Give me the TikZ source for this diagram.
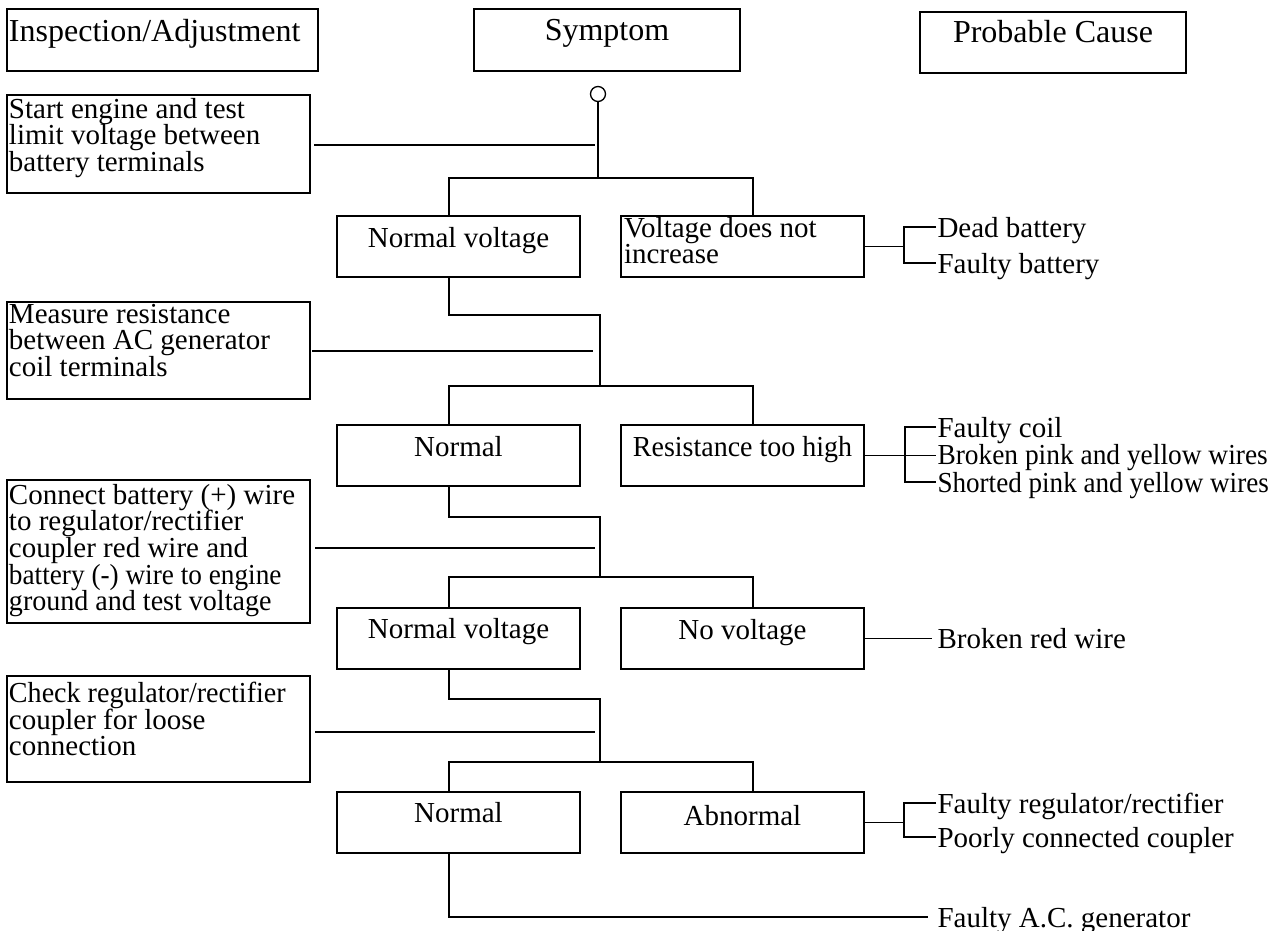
\documentclass[tikz,border=0pt]{standalone}
\usepackage{fontspec}
\setmainfont{Liberation Serif}
\lineskiplimit=-10pt
\begin{document}
\begin{tikzpicture}[x=1pt,y=-1pt,
  every node/.style={inner sep=0pt, outer sep=0pt},
  headbox/.style={draw, line width=1.5pt, anchor=north west, minimum height=62pt},
  leftbox/.style={draw, line width=1.1pt, anchor=north west, minimum width=303pt},
  symbox/.style={draw, line width=1.8pt, anchor=north west, minimum width=243pt, minimum height=61pt},
  headtext/.style={font=\fontsize{32}{34}\selectfont, anchor=base},
  bodytext/.style={font=\fontsize{29}{26.7}\selectfont},
  lefttext/.style={bodytext, anchor=north west, align=left},
  symtext/.style={bodytext, anchor=base},
  cause/.style={bodytext, anchor=base west, text height=20pt, text depth=0pt, inner xsep=1.5pt},
  treeline/.style={line width=1.8pt},
  leftline/.style={line width=1.1pt}
]
\useasboundingbox (0,0) rectangle (1275,931);

% header boxes
\node[headbox, minimum width=311pt] (hi) at (7,9) {};
\node[headtext, anchor=base west] (hit) at (9,42) {Inspection/Adjustment};
\node[headbox, minimum width=266pt] (hs) at (474,9) {};
\node[headtext] (hst) at (607,41) {Symptom};
\node[headbox, minimum width=266pt, minimum height=61pt] (hp) at (920,12) {};
\node[headtext] (hpt) at (1053,43) {Probable Cause};

% left boxes
\node[leftbox, minimum height=98pt] (l1) at (7,95) {};
\node[lefttext] (l1t) at (9,98) {\rule{0pt}{20pt}Start engine and test\\limit voltage between\\battery terminals};
\node[leftbox, minimum height=97pt] (l2) at (7,302) {};
\node[lefttext] (l2t) at (9,303) {\rule{0pt}{20pt}Measure resistance\\between AC generator\\coil terminals};
\node[leftbox, minimum height=143pt] (l3) at (7,480) {};
\node[lefttext] (l3t) at (9,484) {\rule{0pt}{20pt}Connect battery (+) wire\\to regulator/rectifier\\coupler red wire and\\\scalebox{0.94}[1]{battery (-) wire to engine}\\\scalebox{0.967}[1]{ground and test voltage}};
\node[leftbox, minimum height=106pt] (l4) at (7,676) {};
\node[lefttext] (l4t) at (9,682) {\rule{0pt}{20pt}\scalebox{0.968}[1]{Check regulator/rectifier}\\coupler for loose\\connection};

% start circle
\node[draw, circle, line width=1.3pt, minimum size=15pt] (c0) at (598,94) {};

% symptom boxes
\node[symbox] (nv1) at (337,216) {};
\node[symtext] (nv1t) at ([yshift=-31pt]nv1.north) {Normal voltage};
\node[symbox] (vd) at (621,216) {};
\node[lefttext] (vdt) at (624,217) {\rule{0pt}{20pt}Voltage does not\\increase};

\node[symbox] (n2) at (337,425) {};
\node[symtext] (n2t) at ([yshift=-31pt]n2.north) {Normal};
\node[symbox] (rt) at (621,425) {};
\node[symtext] (rtt) at ([yshift=-31pt]rt.north) {\scalebox{0.965}[1]{Resistance too high}};

\node[symbox] (nv2) at (337,608) {};
\node[symtext] (nv2t) at ([yshift=-30pt]nv2.north) {Normal voltage};
\node[symbox] (nov) at (621,608) {};
\node[symtext] (novt) at ([yshift=-31pt]nov.north) {No voltage};

\node[symbox] (n3) at (337,792) {};
\node[symtext] (n3t) at ([yshift=-30pt]n3.north) {Normal};
\node[symbox] (ab) at (621,792) {};
\node[symtext] (abt) at ([yshift=-33pt]ab.north) {Abnormal};

% causes
\node[cause] (db) at (936,237) {Dead battery};
\node[cause] (fb) at (936,273) {Faulty battery};
\node[cause] (fc) at (936,437) {Faulty coil};
\node[cause] (bp) at (936,464) {\scalebox{0.945}[1]{Broken pink and yellow wires}};
\node[cause] (sp) at (936,492) {\scalebox{0.935}[1]{Shorted pink and yellow wires}};
\node[cause] (brw) at (936,648) {Broken red wire};
\node[cause] (fr) at (936,813) {Faulty regulator/rectifier};
\node[cause] (pc) at (936,847) {Poorly connected coupler};
\node[cause] (fac) at (936,927) {Faulty A.C. generator};

% trunk coordinates
\coordinate (s1) at (598,178);
\coordinate (k1) at (600,315);
\coordinate (s2) at (600,386);
\coordinate (k2) at (600,517);
\coordinate (s3) at (600,577);
\coordinate (k3) at (600,699);
\coordinate (s4) at (600,762);

% tree lines
\draw[treeline] (c0) -- (s1);
\draw[treeline] ([xshift=-9.5pt]nv1.north) |- (s1) -| ([xshift=10.5pt]vd.north);
\draw[treeline] ([xshift=-9.5pt]nv1.south) |- (k1) -- (s2);
\draw[treeline] ([xshift=-9.5pt]n2.north) |- (s2) -| ([xshift=10.5pt]rt.north);
\draw[treeline] ([xshift=-9.5pt]n2.south) |- (k2) -- (s3);
\draw[treeline] ([xshift=-9.5pt]nv2.north) |- (s3) -| ([xshift=10.5pt]nov.north);
\draw[treeline] ([xshift=-9.5pt]nv2.south) |- (k3) -- (s4);
\draw[treeline] ([xshift=-9.5pt]n3.north) |- (s4) -| ([xshift=10.5pt]ab.north);
\draw[treeline] ([xshift=-9.5pt]n3.south) |- ([xshift=-8pt]fac.west);

% left connectors
\coordinate (e1) at (595,145);
\coordinate (e2) at (593,351);
\coordinate (e3) at (595,548);
\coordinate (e4) at (595,732);
\draw[leftline] ([xshift=4pt]l1.east |- e1) -- (e1);
\draw[leftline] ([xshift=2pt]l2.east |- e2) -- (e2);
\draw[leftline] ([xshift=5pt]l3.east |- e3) -- (e3);
\draw[leftline] ([xshift=5pt]l4.east |- e4) -- (e4);

% cause connectors
\coordinate (j1) at (904,0);
\draw[treeline] (vd.east) -- (vd.east -| j1);
\draw[treeline] (db.west) -| (j1 |- vd.east) |- (fb.west);
\coordinate (j2) at (905,0);
\draw[treeline] (rt.east) -- (rt.east -| bp.west);
\draw[treeline] (fc.west) -| (j2 |- rt.east) |- (sp.west);
\draw[treeline] (nov.east) -- ([xshift=-4pt]nov.east -| brw.west);
\coordinate (j3) at (904,0);
\draw[treeline] (ab.east) -- (ab.east -| j3);
\draw[treeline] (fr.west) -| (j3 |- ab.east) |- (pc.west);
\end{tikzpicture}
\end{document}
